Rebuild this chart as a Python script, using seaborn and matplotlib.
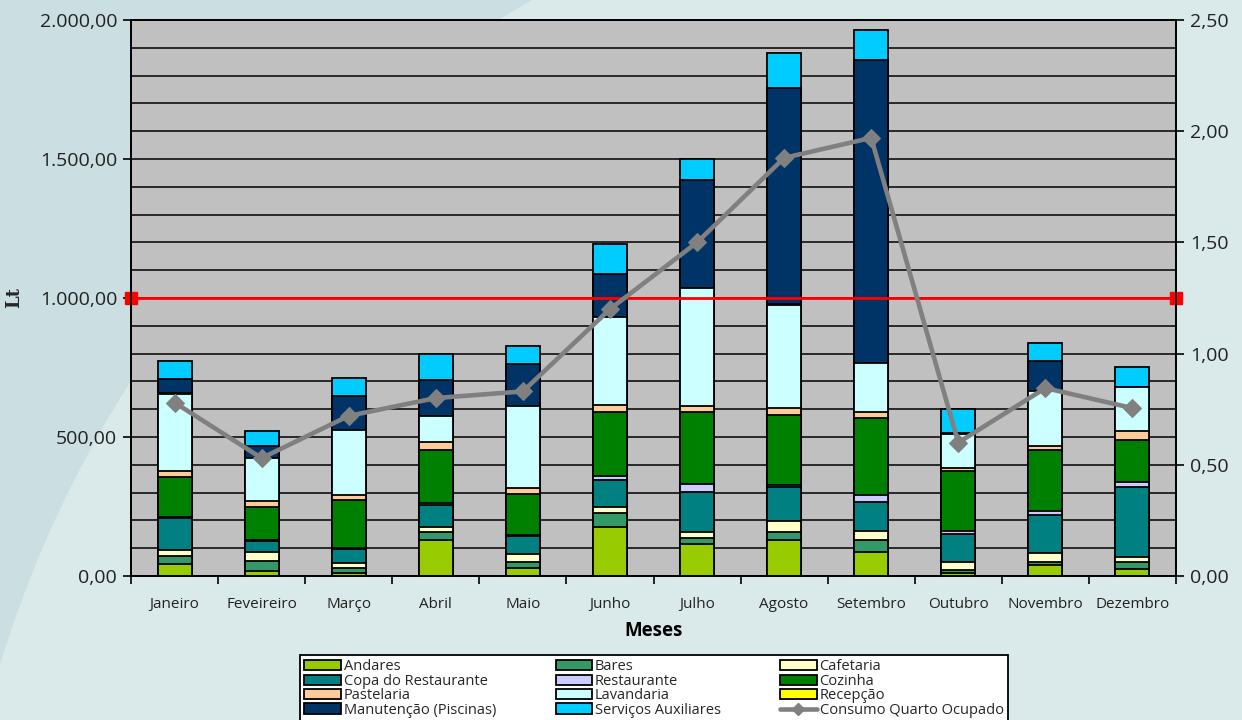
import numpy as np
import pandas as pd
import matplotlib
matplotlib.use("Agg")
import matplotlib.pyplot as plt
import seaborn as sns
from matplotlib.patches import Ellipse, Patch
from matplotlib.lines import Line2D
from matplotlib.ticker import FuncFormatter, MultipleLocator

# ---------------- data ----------------
meses = ["Janeiro", "Feveireiro", "Março", "Abril", "Maio", "Junho",
         "Julho", "Agosto", "Setembro", "Outubro", "Novembro", "Dezembro"]

andares      = [43, 19, 12, 129, 28, 177, 114, 128, 86, 10, 40, 25]
bares        = [29, 36, 18, 30, 24, 51, 22, 32, 42, 12, 12, 24]
cafetaria    = [22, 30, 18, 18, 27, 21, 21, 39, 35, 27, 32, 20]
copa_rest    = [114, 41, 48, 78, 65, 96, 144, 121, 103, 101, 137, 252]
restaurante  = [6, 5, 5, 6, 2, 15, 30, 6, 25, 12, 14, 16]
cozinha      = [143, 116, 171, 192, 150, 230, 258, 253, 277, 217, 218, 152]
pastelaria   = [21, 21, 21, 28, 21, 25, 24, 26, 22, 11, 15, 34]
lavandaria   = [278, 156, 231, 95, 294, 318, 422, 370, 177, 122, 199, 158]
recepcao     = [4, 0, 0, 0, 0, 0, 0, 2, 0, 0, 0, 0]
manutencao   = [48, 45, 124, 129, 151, 153, 389, 777, 1088, 4, 108, 0]
servicos     = [64, 51, 64, 92, 67, 107, 76, 126, 109, 85, 64, 72]

consumo_quarto = [0.78, 0.53, 0.72, 0.80, 0.83, 1.20, 1.50, 1.88, 1.97, 0.60, 0.845, 0.755]
limite = 1000

series_names = ["Andares", "Bares", "Cafetaria", "Copa do Restaurante", "Restaurante",
                "Cozinha", "Pastelaria", "Lavandaria", "Recepção",
                "Manutenção (Piscinas)", "Serviços Auxiliares"]
series_vals = [andares, bares, cafetaria, copa_rest, restaurante, cozinha,
               pastelaria, lavandaria, recepcao, manutencao, servicos]
series_colors = ["#99CC00", "#339966", "#FFFFCC", "#008080", "#CCCCFF", "#008000",
                 "#FFCC99", "#CCFFFF", "#FFFF00", "#003366", "#00CCFF"]
line_color = "#808080"

# ---------------- style ----------------
sns.set_theme(style="white")
plt.rcParams["font.family"] = ["Open Sans", "DejaVu Sans"]

fig = plt.figure(figsize=(12.42, 7.2), dpi=100)
fig.patch.set_facecolor("#CBDFE2")
fig.patches.append(Ellipse((1100 / 1242, (720 - 1000) / 720), 2 * 1150 / 1242, 2 * 1150 / 720,
                           transform=fig.transFigure, facecolor="#DAE9E9",
                           edgecolor="none", zorder=-10))

ax = fig.add_axes([131 / 1242, 1 - 576 / 720, (1176 - 131) / 1242, (576 - 20) / 720])
ax.set_facecolor("#C0C0C0")

cum = np.zeros(len(meses))
cums = []
for vals in series_vals:
    cum = cum + np.array(vals, dtype=float)
    cums.append(cum.copy())

# cumulative layers drawn from the top one down, so each lower layer covers the upper
for name, c, color in reversed(list(zip(series_names, cums, series_colors))):
    sns.barplot(x=meses, y=c, color=color, saturation=1, edgecolor="black",
                linewidth=1.3, width=0.39, errorbar=None, ax=ax, zorder=3)

ax.set_axisbelow(True)
ax.set_ylim(0, 2000)
ax.set_xlim(-0.5, len(meses) - 0.5)
ax.yaxis.set_major_locator(MultipleLocator(500))
ax.yaxis.set_minor_locator(MultipleLocator(100))
ax.grid(True, which="both", axis="y", color="black", linewidth=1.1)
ax.grid(False, axis="x")
ax.yaxis.set_major_formatter(FuncFormatter(
    lambda v, p: f"{v:,.2f}".replace(",", "X").replace(".", ",").replace("X", ".")))
ax.tick_params(axis="y", which="major", direction="out", length=6, width=1.2,
               color="black", labelsize=14, labelcolor="#222222", pad=4, left=True)
ax.tick_params(axis="y", which="minor", length=0)
ax.set_xticks(range(len(meses)))
ax.set_xticklabels(meses, fontsize=11, color="#222222")
ax.set_xticks(np.arange(-0.5, len(meses), 1.0), minor=True)
ax.tick_params(axis="x", which="major", length=0, pad=15)
ax.tick_params(axis="x", which="minor", direction="out", length=6, width=1.2, color="black",
               bottom=True)
for s in ax.spines.values():
    s.set_color("black")
    s.set_linewidth(1.3)

ax.set_xlabel("Meses", fontsize=13.5, fontweight="bold", color="black")
ax.xaxis.set_label_coords(0.5, -(631 - 576) / 556, transform=ax.transAxes)
ax.xaxis.label.set_va("center")
ax.set_ylabel("Lt", family=["DejaVu Serif"], fontsize=13, fontweight="bold", labelpad=12)

ax.plot([-0.5, len(meses) - 0.5], [limite, limite], color="#FF0000", linewidth=2,
        marker="s", markersize=8, clip_on=False, zorder=5)

ax2 = ax.twinx()
sns.lineplot(x=np.arange(len(meses)), y=consumo_quarto, ax=ax2, color=line_color,
             linewidth=3.3, marker="D", markersize=9, markeredgecolor=line_color,
             zorder=6)
ax2.set_ylim(0, 2.5)
ax2.set_xlim(-0.5, len(meses) - 0.5)
ax2.yaxis.set_major_locator(MultipleLocator(0.5))
ax2.yaxis.set_major_formatter(FuncFormatter(lambda v, p: f"{v:.2f}".replace(".", ",")))
ax2.tick_params(axis="y", direction="out", length=6, width=1.2, color="black",
                labelsize=14, labelcolor="#222222", pad=4, right=True)
ax2.grid(False)
ax2.set_ylabel("")
for s in ax2.spines.values():
    s.set_color("black")
    s.set_linewidth(1.3)

handles = [Patch(facecolor=c, edgecolor="black", linewidth=1.3) for c in series_colors]
handles.append(Line2D([0], [0], color=line_color, linewidth=3.3, marker="D", markersize=6))
labels = series_names + ["Consumo Quarto Ocupado"]
order = [0, 3, 6, 9, 1, 4, 7, 10, 2, 5, 8, 11]
leg = fig.legend([handles[i] for i in order], [labels[i] for i in order],
                 loc="upper left",
                 bbox_to_anchor=(300 / 1242, 0, (1008 - 300) / 1242, 1 - 655 / 720),
                 mode="expand", ncol=3, frameon=True, fancybox=False,
                 edgecolor="black", facecolor="white", framealpha=1,
                 handlelength=2.5, handleheight=0.7, handletextpad=0.2,
                 labelspacing=-0.04, borderpad=0.3, borderaxespad=0,
                 prop={"size": 10.5})
leg.get_frame().set_linewidth(1.3)

fig.savefig("out.png", dpi=100, facecolor=fig.get_facecolor())
